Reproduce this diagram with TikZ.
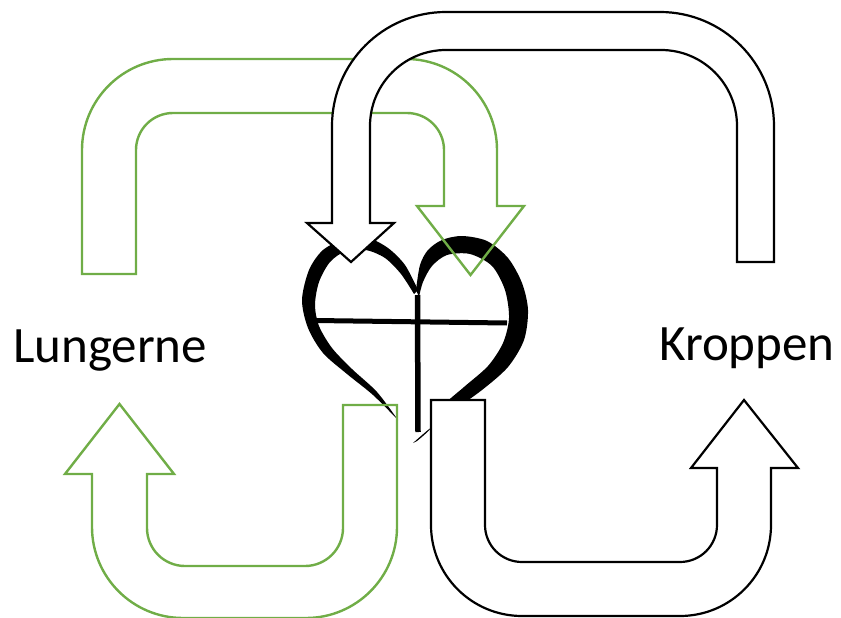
\documentclass[tikz,border=0pt]{standalone}
\usepackage{fontspec}
\setmainfont{Carlito}
\usepackage{tikz}
\definecolor{lungegreen}{RGB}{112,173,71}

\begin{document}
\begin{tikzpicture}[x=1pt, y=-1pt,
        greenarrow/.style={draw=lungegreen, line width=2.4pt},
        blackarrow/.style={draw=black, fill=white, line width=2.2pt},
        organ/.style={anchor=base, inner sep=0pt, font=\fontsize{51}{61}\selectfont}]
        \useasboundingbox (0,0) rectangle (841,618);
        % Heart, left and right stroke
        \fill[black] plot[smooth] coordinates {(398,420) (373,395) (347,374) (323,353) (308,328) (302,300) (309,270) (323,250) (345,239) (368,238) (388,248) (405,265) (418,290)}
            -- plot[smooth] coordinates {(414,294) (401,274) (385,258) (366,250) (346,251) (330,262) (319,282) (315,305) (319,326) (332,348) (352,369) (377,392) (398,420)} -- cycle;
        \fill[black] plot[smooth] coordinates {(416,290) (420,265) (428,250) (442,240) (462,236) (487,241) (508,258) (522,283) (528,310) (524,340) (508,367) (482,390) (450,413) (428,430) (413,443)}
            -- plot[smooth] coordinates {(417,441) (431,428) (444,405) (464,387) (488,366) (503,343) (509,318) (505,290) (492,266) (470,254) (447,255) (432,266) (423,282) (419,297)} -- cycle;
        \draw[line width=5pt] (315,320.5) -- (507,323);
        \draw[line width=5.5pt] (417.5,295) -- (418,432);
        % Green arrows
        \draw[greenarrow] (82,274) [rounded corners=91pt] -- (82,59) -- (497,59) [sharp corners] -- (497,206) -- (524,206) -- (470.5,275) -- (417,206) -- (444,206) [rounded corners=37pt] -- (444,113) -- (136,113) [sharp corners] -- (136,274) -- cycle;
        \draw[greenarrow] (397,405) [rounded corners=91pt] -- (397,618) -- (92,618) [sharp corners] -- (92,474) -- (65,474) -- (119.5,404) -- (174,474) -- (147,474) [rounded corners=38pt] -- (147,566) -- (343,566) [sharp corners] -- (343,405) -- cycle;
        % Black arrows
        \draw[blackarrow] (774,262) [rounded corners=114pt] -- (774,12) -- (332,12) [sharp corners] -- (332,223) -- (307,223) -- (351,262) -- (394,223) -- (370,223) [rounded corners=76pt] -- (370,50) -- (737,50) [sharp corners] -- (737,262) -- cycle;
        \draw[blackarrow] (431,400) [rounded corners=91pt] -- (431,616) -- (771,616) [sharp corners] -- (771,468) -- (798,468) -- (744,400) -- (691,468) -- (717,468) [rounded corners=37pt] -- (717,562) -- (485,562) [sharp corners] -- (485,400) -- cycle;
        \node[organ] (lunger) at (110,362) {Lungerne};
        \node[organ] (krop) at (747,360) {Kroppen};
    \end{tikzpicture}
\end{document}
